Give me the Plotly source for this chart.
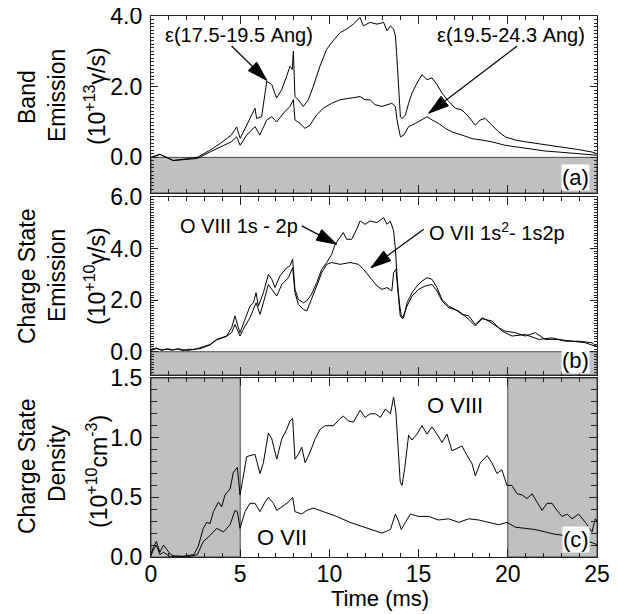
import math
import plotly.graph_objects as go

# ---------------- data ----------------
# Panel (a): band emission (10^13 photons/s)
band1_t = [0, 0.5, 1.25, 2.0, 2.6, 3.3, 3.9, 4.5, 4.8, 5.0, 5.36, 5.83, 5.92, 6.2, 6.49,
           6.77, 7.04, 7.32, 7.6, 7.79, 7.92, 7.98, 8.07, 8.26, 8.54, 8.82, 9.1, 9.47, 9.85, 10.13,
           10.6, 10.97, 11.34, 11.72, 11.9, 12.28, 12.67, 13.04, 13.23, 13.42, 13.6, 13.7, 13.79, 13.88, 13.98,
           14.07, 14.26, 14.44, 14.63, 14.91, 15.19, 15.47, 15.75, 16.03, 16.31, 16.69, 17.06, 17.43, 17.81, 18.18,
           18.46, 18.74, 19.11, 19.49, 19.86, 20.42, 20.98, 21.73, 22.48, 23.22, 23.97, 24.72, 25.0]
band1_v = [0.0, 0.09, -0.09, -0.05, 0.0, 0.2, 0.4, 0.63, 0.86, 0.54, 0.91, 1.39, 1.1, 1.15, 2.15,
           2.06, 1.68, 1.91, 2.29, 2.58, 2.49, 3.01, 1.72, 1.63, 1.44, 1.63, 2.01, 2.58, 3.06, 3.25,
           3.53, 3.63, 3.77, 3.96, 3.72, 3.82, 3.77, 3.82, 3.58, 3.72, 3.63, 3.44, 2.77, 1.91, 1.15,
           1.1, 1.2, 1.53, 1.82, 2.1, 2.34, 2.2, 2.25, 2.06, 1.82, 1.58, 1.39, 1.34, 1.15, 0.91,
           1.06, 1.1, 0.91, 0.72, 0.58, 0.49, 0.44, 0.39, 0.34, 0.29, 0.22, 0.15, 0.1]

band2_t = [0, 0.5, 1.25, 2.0, 2.6, 3.3, 3.9, 4.5, 4.8, 5.0, 5.36, 5.83, 6.1, 6.49, 6.77,
           7.04, 7.42, 7.79, 7.98, 8.07, 8.35, 8.63, 8.91, 9.28, 9.66, 10.13, 10.6, 11.16, 11.72, 12.0,
           12.28, 12.56, 12.95, 13.5, 13.7, 13.79, 13.98, 14.17, 14.44, 14.82, 15.19, 15.47, 15.75, 16.12, 16.5,
           16.87, 17.43, 18.0, 18.55, 19.1, 19.86, 20.6, 21.36, 22.1, 22.85, 23.6, 24.35, 25.0]
band2_v = [0.0, 0.08, -0.09, -0.06, -0.03, 0.15, 0.3, 0.44, 0.58, 0.34, 0.63, 0.87, 0.63, 1.06, 1.15,
           1.0, 1.25, 1.44, 1.63, 1.06, 0.96, 0.82, 0.91, 1.2, 1.39, 1.53, 1.63, 1.68, 1.72, 1.63,
           1.63, 1.49, 1.44, 1.53, 1.44, 1.06, 0.58, 0.63, 0.87, 0.96, 1.06, 1.15, 1.06, 0.96, 0.82,
           0.72, 0.63, 0.53, 0.49, 0.44, 0.34, 0.28, 0.22, 0.18, 0.15, 0.12, 0.1, 0.06]

# Panel (b): charge state emission (10^10 photons/s)
o8em_t = [0, 0.3, 0.6, 0.9, 1.2, 1.5, 1.8, 2.1, 2.4, 2.75, 3.3, 3.68, 4.24, 4.52, 4.71,
          4.9, 4.99, 5.27, 5.55, 5.74, 5.89, 6.02, 6.3, 6.58, 6.77, 6.95, 7.23, 7.61, 7.79, 7.94,
          8.07, 8.26, 8.54, 8.73, 9.0, 9.29, 9.57, 9.85, 10.13, 10.32, 10.6, 10.78, 10.97, 11.25, 11.53,
          11.72, 12.0, 12.28, 12.67, 13.04, 13.23, 13.41, 13.6, 13.7, 13.79, 13.92, 14.03, 14.16, 14.35, 14.63,
          14.91, 15.19, 15.47, 15.75, 16.03, 16.31, 16.69, 17.06, 17.43, 17.81, 18.18, 18.56, 18.93, 19.49, 19.86,
          20.42, 20.98, 21.54, 22.1, 22.85, 23.6, 24.35, 25.0]
o8em_v = [0.1, 0.15, 0.05, 0.12, 0.08, 0.1, 0.05, 0.1, 0.08, 0.15, 0.28, 0.48, 0.61, 0.93, 1.39,
          0.93, 0.74, 1.26, 1.77, 1.9, 2.29, 1.77, 2.29, 3.0, 2.81, 2.49, 2.94, 3.26, 3.33, 3.59,
          2.42, 2.03, 1.9, 1.97, 2.23, 2.68, 3.2, 3.46, 3.78, 4.17, 4.43, 4.62, 4.36, 4.36, 4.75,
          5.07, 4.94, 5.07, 5.01, 5.2, 4.94, 5.07, 4.69, 3.98, 2.94, 1.9, 1.39, 1.32, 1.9, 2.29,
          2.55, 2.74, 2.87, 2.81, 2.49, 2.03, 1.77, 1.64, 1.45, 1.39, 1.06, 1.32, 1.19, 0.93, 0.8,
          0.74, 0.61, 0.74, 0.48, 0.48, 0.41, 0.35, 0.19]

o7em_t = [0, 0.3, 0.6, 0.9, 1.2, 1.5, 1.8, 2.1, 2.4, 2.75, 3.3, 3.68, 4.24, 4.52, 4.71,
          4.99, 5.27, 5.55, 5.89, 6.11, 6.3, 6.58, 6.77, 7.05, 7.33, 7.7, 7.94, 8.07, 8.26, 8.54,
          8.73, 9.0, 9.29, 9.57, 9.85, 10.13, 10.6, 11.16, 11.63, 11.91, 12.28, 12.67, 12.95, 13.23, 13.5,
          13.6, 13.73, 13.84, 13.97, 14.1, 14.35, 14.63, 15.0, 15.37, 15.75, 16.03, 16.31, 16.69, 17.25, 17.81,
          18.18, 18.56, 19.12, 19.68, 20.24, 20.98, 21.73, 22.48, 23.22, 23.97, 24.72, 25.0]
o7em_v = [0.05, 0.12, 0.08, 0.1, 0.06, 0.12, 0.08, 0.05, 0.1, 0.12, 0.26, 0.46, 0.6, 0.74, 1.06,
          0.61, 1.0, 1.32, 1.9, 1.45, 1.9, 2.61, 2.42, 2.16, 2.61, 2.87, 3.26, 2.29, 1.84, 1.64,
          1.58, 2.03, 2.55, 3.07, 3.39, 3.46, 3.39, 3.46, 3.39, 3.2, 2.87, 2.55, 2.42, 2.49, 2.36,
          3.07, 3.2, 2.29, 1.39, 1.28, 1.77, 2.16, 2.42, 2.55, 2.61, 2.36, 1.97, 1.71, 1.58, 1.26,
          1.0, 1.28, 1.19, 0.8, 0.61, 0.67, 0.48, 0.54, 0.41, 0.41, 0.35, 0.2]

# Panel (c): charge state density (10^10 cm^-3)
o8n_t = [0, 0.1, 0.3, 0.5, 0.7, 1.1, 1.5, 2.0, 2.4, 2.65, 2.93, 3.12, 3.31, 3.5, 3.78,
         3.96, 4.15, 4.43, 4.62, 4.84, 4.99, 5.18, 5.36, 5.55, 5.83, 6.11, 6.3, 6.58, 6.77, 7.05,
         7.33, 7.61, 7.79, 7.94, 8.07, 8.26, 8.45, 8.64, 8.92, 9.2, 9.48, 9.76, 10.22, 10.6, 10.78,
         11.07, 11.35, 11.72, 12.0, 12.28, 12.58, 12.86, 13.14, 13.42, 13.6, 13.73, 13.84, 13.97, 14.07, 14.22,
         14.44, 14.63, 14.91, 15.19, 15.47, 15.75, 16.03, 16.31, 16.59, 16.87, 17.15, 17.43, 17.72, 18.0, 18.18,
         18.46, 18.84, 19.11, 19.39, 19.67, 19.95, 20.23, 20.52, 20.8, 21.08, 21.36, 21.64, 21.92, 22.2, 22.48,
         22.76, 23.04, 23.33, 23.6, 23.97, 24.35, 24.72, 24.9, 25.0]
o8n_v = [0.02, 0.07, 0.13, 0.04, 0.1, 0.02, 0.0, 0.01, 0.02, 0.09, 0.24, 0.29, 0.28, 0.38, 0.46,
         0.42, 0.52, 0.57, 0.71, 0.75, 0.52, 0.68, 0.84, 0.85, 0.86, 0.7, 0.79, 1.04, 0.99, 0.82,
         0.99, 1.07, 1.14, 1.16, 0.82, 0.86, 0.92, 0.79, 0.88, 0.99, 1.07, 1.1, 1.1, 1.16, 1.18,
         1.14, 1.13, 1.23, 1.17, 1.2, 1.2, 1.17, 1.24, 1.2, 1.34, 1.21, 0.96, 0.63, 0.6, 0.74,
         1.02, 0.98, 1.03, 1.1, 1.03, 1.09, 1.03, 0.96, 1.03, 0.89, 0.91, 0.93, 0.85, 0.78, 0.68,
         0.79, 0.85, 0.79, 0.7, 0.73, 0.6, 0.6, 0.53, 0.52, 0.49, 0.53, 0.46, 0.39, 0.45, 0.45,
         0.39, 0.34, 0.36, 0.32, 0.36, 0.29, 0.21, 0.32, 0.3]

o7n_t = [0, 0.1, 0.3, 0.5, 0.7, 1.1, 1.5, 2.0, 2.6, 2.93, 3.31, 3.68, 4.06, 4.43, 4.71,
         4.84, 4.99, 5.27, 5.55, 5.83, 6.11, 6.39, 6.58, 6.86, 7.05, 7.33, 7.7, 7.94, 8.07, 8.45,
         8.73, 9.1, 9.66, 10.41, 11.16, 11.91, 12.39, 12.95, 13.42, 13.7, 13.9, 14.03, 14.26, 14.54, 15.0,
         15.57, 16.12, 16.68, 17.25, 17.81, 18.37, 18.93, 19.49, 19.95, 20.42, 20.98, 21.54, 22.1, 22.66, 23.22,
         23.78, 24.35, 24.9, 25.0]
o7n_v = [0.01, 0.05, 0.1, 0.02, 0.04, 0.0, 0.01, 0.0, 0.02, 0.13, 0.18, 0.24, 0.21, 0.27, 0.39,
         0.38, 0.24, 0.38, 0.45, 0.45, 0.38, 0.46, 0.5, 0.45, 0.39, 0.42, 0.46, 0.5, 0.38, 0.36,
         0.39, 0.41, 0.38, 0.34, 0.29, 0.25, 0.23, 0.2, 0.23, 0.36, 0.29, 0.23, 0.29, 0.36, 0.34,
         0.34, 0.31, 0.32, 0.29, 0.32, 0.31, 0.29, 0.27, 0.29, 0.25, 0.24, 0.23, 0.21, 0.19, 0.18,
         0.16, 0.14, 0.11, 0.1]

# shaded regions
shade_a = (-1.0, 0.0)          # y-band in panel a
shade_b = (-0.9, 0.0)          # y-band in panel b
shade_c = [(0, 5), (20, 25)]   # time windows in panel c

x_ticks = [0, 5, 10, 15, 20, 25]
ya_vals = [0, 2, 4]
ya_text = ["0.0", "2.0", "4.0"]
ya_unlabeled = [1, 3]
yb_vals = [0, 2, 4, 6]
yb_text = ["0.0", "2.0", "4.0", "6.0"]
yb_unlabeled = [1, 3, 5]
yc_vals = [0, 0.5, 1.0, 1.5]
yc_text = ["0.0", "0.5", "1.0", "1.5"]

# ---------------- layout geometry ----------------
# page body has an 8px margin: figure occupies window pixels 8..618 / 8..614
OFF = 8
W, H = 618 - OFF, 614 - OFF
ML, MR, MT, MB = 151 - OFF, 21, 16 - OFF, 57
PW, PH = W - ML - MR, H - MT - MB


def ypaper(py):
    return 1 - (py - OFF - MT) / PH


def xpaper(px):
    return (px - OFF - ML) / PW


dom_a = [ypaper(192.7), 1.0]
dom_b = [ypaper(375), ypaper(197)]
dom_c = [0.0, ypaper(378)]
rng_a = [-1.0, 4.0]
rng_b = [-0.9, 6.0]
rng_c = [0.0, 1.5]
XR = [0, 25]

FONT = "Liberation Sans, Arial, Helvetica, sans-serif"
AX = "#222222"
GRAY = "#c0c0c0"

fig = go.Figure()
for t, v, xa, ya in [(band1_t, band1_v, "x", "y"), (band2_t, band2_v, "x", "y"),
                     (o8em_t, o8em_v, "x2", "y2"), (o7em_t, o7em_v, "x2", "y2"),
                     (o8n_t, o8n_v, "x3", "y3"), (o7n_t, o7n_v, "x3", "y3")]:
    fig.add_trace(go.Scatter(x=t, y=v, xaxis=xa, yaxis=ya, mode="lines",
                             line=dict(color="black", width=1), showlegend=False,
                             hoverinfo="skip"))


def xaxis(anchor, labels):
    return dict(domain=[0, 1], anchor=anchor, range=XR, showgrid=False, zeroline=False,
                automargin=False, ticklabeloverflow="allow",
                showline=True, linecolor=AX, linewidth=1.3, mirror="allticks",
                ticks="inside", ticklen=8, tickwidth=1, tickcolor=AX,
                tickmode="array", tickvals=x_ticks, ticktext=[str(v) for v in x_ticks],
                showticklabels=labels, ticklabelstandoff=-4,
                minor=dict(dtick=1, tick0=0, ticks="inside", ticklen=4, tickcolor=AX, showgrid=False),
                tickfont=dict(size=23, family=FONT, color="black"))


def yaxis(anchor, dom, rng, vals, text, minor_len, major_len=7):
    return dict(domain=dom, anchor=anchor, range=rng, showgrid=False, zeroline=False,
                automargin=False, ticklabeloverflow="allow",
                showline=True, linecolor=AX, linewidth=1.3, mirror="allticks",
                ticks="inside", ticklen=major_len, tickwidth=1, tickcolor=AX,
                tickmode="array", tickvals=vals, ticktext=text, ticklabelstandoff=3,
                minor=dict(dtick=0.1, tick0=0, ticks="inside", ticklen=minor_len,
                           tickcolor=AX, showgrid=False),
                tickfont=dict(size=23, family=FONT, color="black"))


def yextra(overlay, rng, vals):
    # carries the unlabeled major ticks (no text)
    return dict(overlaying=overlay, anchor="x" if overlay == "y" else "x2", side="left",
                range=rng, showgrid=False, zeroline=False, automargin=False,
                showline=True, linecolor=AX, linewidth=1.3, mirror="allticks",
                ticks="inside", ticklen=7, tickwidth=1, tickcolor=AX,
                tickmode="array", tickvals=vals, showticklabels=False)


fig.update_layout(
    width=W, height=H, margin=dict(l=ML, r=MR, t=MT, b=MB, autoexpand=False),
    paper_bgcolor="white", plot_bgcolor="white",
    font=dict(family=FONT, color="black"),
    xaxis=xaxis("y", False), xaxis2=xaxis("y2", False), xaxis3=xaxis("y3", True),
    yaxis=yaxis("x", dom_a, rng_a, ya_vals, ya_text, 3),
    yaxis2=yaxis("x2", dom_b, rng_b, yb_vals, yb_text, 3),
    yaxis3=yaxis("x3", dom_c, rng_c, yc_vals, yc_text, 6, major_len=8),
    yaxis4=yextra("y", rng_a, ya_unlabeled),
    yaxis5=yextra("y2", rng_b, yb_unlabeled),
)

shapes = []
shapes.append(dict(type="rect", xref="x", yref="y", x0=XR[0], x1=XR[1], y0=shade_a[0], y1=shade_a[1],
                   fillcolor=GRAY, line=dict(color="#444444", width=1), layer="below"))
shapes.append(dict(type="rect", xref="x2", yref="y2", x0=XR[0], x1=XR[1], y0=shade_b[0], y1=shade_b[1],
                   fillcolor=GRAY, line=dict(color="#444444", width=1), layer="below"))
for a, b in shade_c:
    shapes.append(dict(type="rect", xref="x3", yref="y3", x0=a, x1=b, y0=rng_c[0], y1=rng_c[1],
                       fillcolor=GRAY, line=dict(color="#444444", width=1), layer="below"))

# arrows: (tail_t, tail_y, tip_t, tip_y, axis suffix)
xpx = PW / (XR[1] - XR[0])
ypx = {"": PH * (dom_a[1] - dom_a[0]) / (rng_a[1] - rng_a[0]),
       "2": PH * (dom_b[1] - dom_b[0]) / (rng_b[1] - rng_b[0])}
arrows = [(4.52, 3.15, 6.49, 2.18, ""),
          (20.52, 3.15, 15.57, 1.25, ""),
          (8.45, 4.88, 10.41, 4.17, "2"),
          (15.29, 4.75, 12.33, 3.26, "2")]
L_HEAD, W_HEAD = 20, 6
for tt, ty, ht, hy, s in arrows:
    xr, yr = "x" + s, "y" + s
    shapes.append(dict(type="line", xref=xr, yref=yr, x0=tt, y0=ty, x1=ht, y1=hy,
                       line=dict(color="black", width=1.2)))
    dx = (tt - ht) * xpx
    dy = (ty - hy) * ypx[s]
    n = math.hypot(dx, dy)
    ux, uy = dx / n, dy / n
    bx, by = ux * L_HEAD, uy * L_HEAD
    nx, ny = -uy, ux
    p1 = (bx + W_HEAD * nx, by + W_HEAD * ny)
    p2 = (bx - W_HEAD * nx, by - W_HEAD * ny)
    path = "M0,0 L%.2f,%.2f L%.2f,%.2f Z" % (p1[0], p1[1], p2[0], p2[1])
    shapes.append(dict(type="path", xref=xr, yref=yr, xsizemode="pixel", ysizemode="pixel",
                       xanchor=ht, yanchor=hy, path=path, fillcolor="black",
                       line=dict(color="black", width=1)))
fig.update_layout(shapes=shapes)

ann = []
# in-plot labels
ann += [
    dict(xref="x", yref="y", x=4.93, y=3.46, text="ε(17.5-19.5 Ang)", showarrow=False,
         font=dict(size=20)),
    dict(xref="x", yref="y", x=20.18, y=3.46, text="ε(19.5-24.3 Ang)", showarrow=False,
         font=dict(size=20)),
    dict(xref="x2", yref="y2", x=4.93, y=4.89, text="O VIII 1s - 2p", showarrow=False,
         font=dict(size=20)),
    dict(xref="x2", yref="y2", x=19.4, y=4.66, text="O VII 1s<sup>2</sup>- 1s2p", showarrow=False,
         font=dict(size=20)),
    dict(xref="x3", yref="y3", x=17.04, y=1.27, text="O VIII", showarrow=False, font=dict(size=22)),
    dict(xref="x3", yref="y3", x=7.34, y=0.167, text="O VII", showarrow=False, font=dict(size=22)),
]
# panel letters
for lab, xr, yr, yb in [("(a)", "x domain", "y domain", 0.012),
                        ("(b)", "x2 domain", "y2 domain", 0.008),
                        ("(c)", "x3 domain", "y3 domain", 0.02)]:
    ann.append(dict(xref=xr, yref=yr, x=0.985, y=yb, xanchor="right", yanchor="bottom",
                    text=lab, showarrow=False, bgcolor="white", borderpad=0,
                    font=dict(size=22)))

# y titles (rotated); positions in window pixels
ytitles = [("Band", 27, 97), ("Emission", 57, 96), ("(10<sup>+13</sup>γ/s)", 95, 96),
           ("Charge State", 27, 276), ("Emission", 57, 276), ("(10<sup>+10</sup>γ/s)", 95, 276),
           ("Charge State", 27, 466), ("Density", 57, 464), ("(10<sup>+10</sup>cm<sup>-3</sup>)", 97, 472)]
for txt, px, py in ytitles:
    ann.append(dict(xref="paper", yref="paper", x=xpaper(px), y=ypaper(py), text=txt,
                    textangle=-90, showarrow=False, xanchor="center", yanchor="middle",
                    font=dict(size=23)))
ann.append(dict(xref="paper", yref="paper", x=xpaper(380), y=ypaper(598), text="Time (ms)",
                showarrow=False, xanchor="center", yanchor="middle", font=dict(size=22)))
fig.update_layout(annotations=ann)

fig.write_html("out.html")
